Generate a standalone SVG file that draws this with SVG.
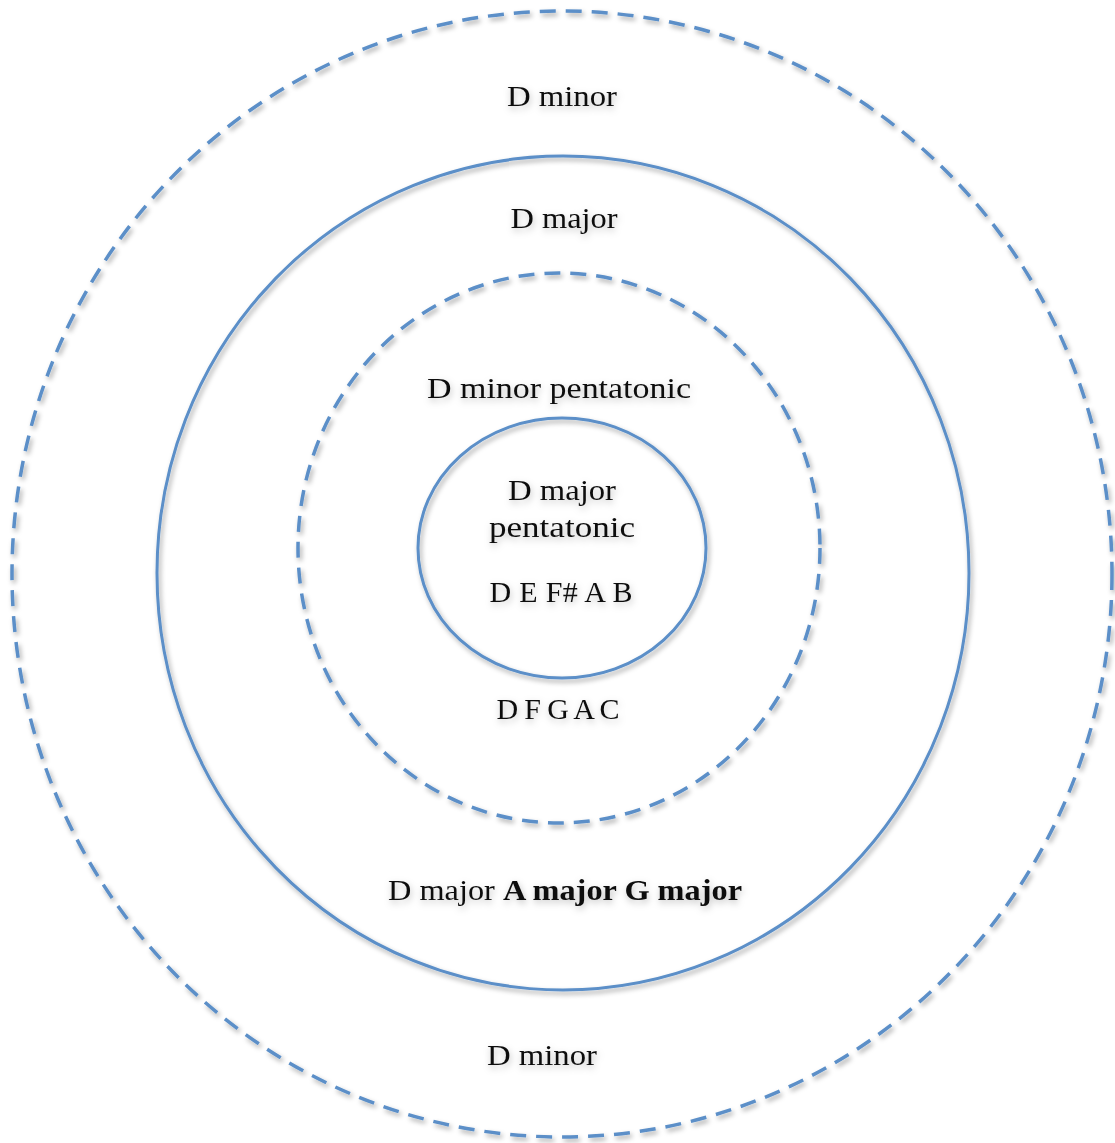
<svg xmlns="http://www.w3.org/2000/svg" width="1115" height="1143" viewBox="0 0 1115 1143">
  <defs>
    <filter id="shadow" x="-10%" y="-10%" width="120%" height="120%">
      <feDropShadow dx="2" dy="3" stdDeviation="2.5" flood-color="#000" flood-opacity="0.35"/>
    </filter>
    <filter id="textShadow" x="-20%" y="-50%" width="140%" height="200%">
      <feDropShadow dx="1" dy="3" stdDeviation="3.5" flood-color="#000" flood-opacity="0.25"/>
    </filter>
  </defs>
  <style>
    .ring { fill: none; stroke: #5B8FC8; stroke-width: 3; }
    .dashed { stroke-width: 3.5; stroke-dasharray: 16 10; }
    .label { font-family: "Liberation Serif", "DejaVu Serif", serif; font-size: 30px; fill: #111; text-anchor: middle; }
    .bold { font-weight: bold; }
  </style>
  <rect width="1115" height="1143" fill="#fff"/>

  <g id="ring-d-minor">
    <ellipse class="ring dashed" cx="562" cy="574" rx="550" ry="563" filter="url(#shadow)"/>
    <text class="label" x="562" y="106" textLength="110" lengthAdjust="spacingAndGlyphs" filter="url(#textShadow)">D minor</text>
    <text class="label" x="542" y="1065" textLength="110" lengthAdjust="spacingAndGlyphs" filter="url(#textShadow)">D minor</text>
  </g>

  <g id="ring-d-major">
    <ellipse class="ring" cx="563" cy="573" rx="406" ry="417" filter="url(#shadow)"/>
    <text class="label" x="564" y="228" textLength="107" lengthAdjust="spacingAndGlyphs" filter="url(#textShadow)">D major</text>
    <text class="label" x="565" y="900" textLength="354" lengthAdjust="spacingAndGlyphs" filter="url(#textShadow)">D major <tspan class="bold">A major G major</tspan></text>
  </g>

  <g id="ring-d-minor-pentatonic">
    <ellipse class="ring dashed" cx="559" cy="548" rx="261" ry="275" filter="url(#shadow)"/>
    <text class="label" x="559" y="398" textLength="264" lengthAdjust="spacingAndGlyphs" filter="url(#textShadow)">D minor pentatonic</text>
    <text class="label" x="558" y="719" word-spacing="-3" textLength="123" lengthAdjust="spacing" filter="url(#textShadow)">D F G A C</text>
  </g>

  <g id="ring-d-major-pentatonic">
    <ellipse class="ring" cx="562" cy="548" rx="144" ry="130" filter="url(#shadow)"/>
    <text class="label" x="562" y="500" textLength="108" lengthAdjust="spacingAndGlyphs" filter="url(#textShadow)">D major</text>
    <text class="label" x="562" y="537" textLength="146" lengthAdjust="spacingAndGlyphs" filter="url(#textShadow)">pentatonic</text>
    <text class="label" x="561" y="602" textLength="143" lengthAdjust="spacing" filter="url(#textShadow)">D E F# A B</text>
  </g>
</svg>
